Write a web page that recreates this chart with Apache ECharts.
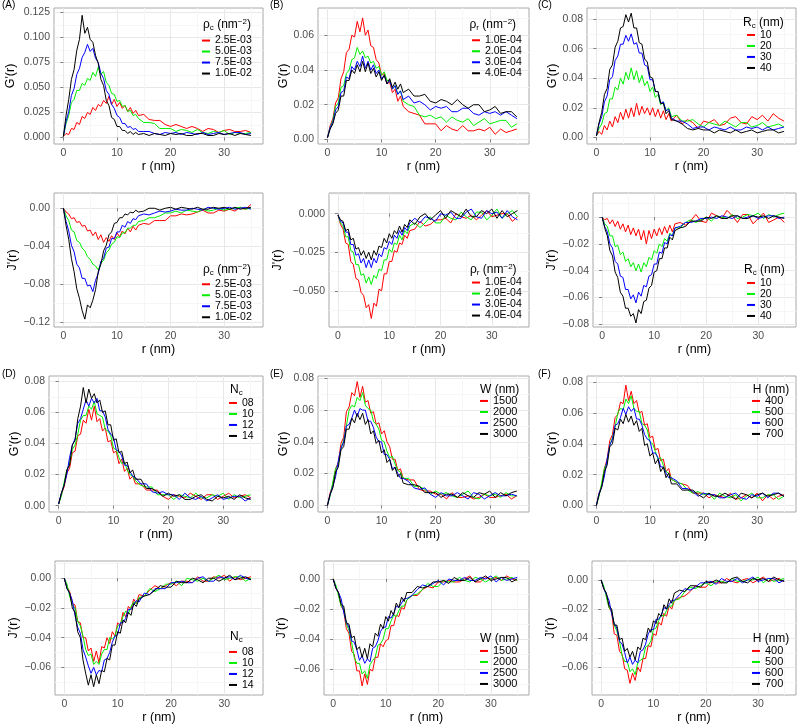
<!DOCTYPE html>
<html><head><meta charset="utf-8">
<script src="https://cdn.jsdelivr.net/npm/echarts@6/dist/echarts.min.js"></script>
<style>html,body{margin:0;padding:0;background:#fff}#c{width:800px;height:726px}</style>
</head><body><div id="c"></div>
<script>
// all series values are given in units of 10^-3
const SCALE = 0.001;
const rGrid = [0,0.5,1,1.5,2,2.5,3,3.5,4,4.5,5,5.5,6,6.5,7,7.5,8,8.5,9,9.5,10,10.5,11,11.5,12,12.5,13,13.5,14,15,16,17,18,19,20,21,22,23,24,25,26,27,28,29,30,31,32,33,34,35];
const R_ticks = [0,10,20,30];
const R_minor = [5,15,25,35];

const A_names = ['2.5E-03','5.0E-03','7.5E-03','1.0E-02'];
const B_names = ['1.0E-04','2.0E-04','3.0E-04','4.0E-04'];
const C_names = ['10','20','30','40'];
const D_names = ['08','10','12','14'];
const E_names = ['1500','2000','2500','3000'];
const F_names = ['400','500','600','700'];

const A_G_ticks = [0,0.025,0.05,0.075,0.1,0.125];
const A_J_ticks = [-0.12,-0.08,-0.04,0];
const B_G_ticks = [0,0.02,0.04,0.06];
const B_J_ticks = [-0.05,-0.025,0];
const C_G_ticks = [0,0.02,0.04,0.06,0.08];
const C_J_ticks = [-0.08,-0.06,-0.04,-0.02,0];
const G_ticks = [0,0.02,0.04,0.06,0.08];
const J_ticks = [-0.06,-0.04,-0.02,0];

// Panel A, G'(r)
const A_G_red = [1,4,3,9,8,15,13,21,19,25,23,30,27,33,31,37,34,41,33,38,31,35,29,32,26,30,24,27,22,23,18,17,17,13,11,13,11,9,11,9,6,9,8,5,7,8,6,6,7,5];
const A_G_green = [1,14,22,35,38,47,47,54,52,59,57,65,61,70,63,66,55,52,44,43,36,37,31,32,26,27,22,23,19,15,15,14,9,9,9,6,8,7,5,8,5,4,6,5,7,3,5,4,4,5];
const A_G_blue = [1,16,26,42,49,63,69,80,85,93,86,89,79,75,64,59,47,43,33,29,22,20,14,14,10,11,8,9,6,6,6,4,3,5,4,5,3,5,4,3,5,3,4,5,3,4,5,5,3,4];
const A_G_black = [1,22,38,58,68,87,98,122,104,110,98,95,82,74,58,52,37,32,20,18,11,11,7,7,4,6,3,5,3,4,2,4,3,2,4,3,4,2,2,4,4,2,2,4,3,4,2,4,3,2];
// Panel A, J'(r)
const A_J_red = [0,-4,-6,-11,-10,-15,-14,-19,-18,-24,-23,-29,-25,-33,-28,-36,-31,-35,-29,-33,-26,-30,-24,-27,-21,-25,-19,-23,-18,-16,-17,-13,-13,-13,-8,-8,-6,-7,-6,-4,-2,-5,-5,-2,-3,-1,-3,1,-1,4];
const A_J_green = [0,-8,-13,-23,-25,-34,-36,-42,-45,-51,-54,-59,-61,-65,-58,-55,-47,-44,-38,-36,-30,-31,-26,-26,-21,-21,-18,-18,-14,-13,-10,-10,-8,-5,-5,-3,-5,-2,-3,-4,-1,-3,-2,0,-2,-1,0,1,-1,0];
const A_J_blue = [0,-14,-24,-39,-46,-59,-63,-74,-74,-82,-81,-88,-76,-69,-56,-53,-42,-41,-32,-32,-25,-25,-18,-20,-14,-16,-11,-12,-8,-6,-7,-5,-3,-4,-3,-1,-2,-2,0,-1,-2,1,0,-1,0,1,-1,0,1,-1];
const A_J_black = [0,-18,-33,-53,-67,-85,-95,-108,-117,-102,-105,-97,-86,-67,-59,-45,-39,-28,-25,-16,-15,-10,-10,-6,-7,-4,-5,-2,-4,-3,0,0,-2,0,1,-1,1,0,-1,1,-1,-1,1,0,1,-1,1,-1,0,1];
// Panel B, G'(r)
const B_G_red = [1,8,12,21,24,35,39,50,52,60,59,68,62,70,60,63,54,53,46,44,37,38,32,33,27,29,22,25,19,16,15,14,9,9,9,5,8,6,5,8,5,5,6,5,7,3,6,4,5,6];
const B_G_green = [1,7,11,19,21,30,31,38,40,46,47,53,49,51,47,48,44,45,41,42,37,39,34,34,29,31,26,28,22,20,19,14,13,14,12,13,10,13,11,10,12,8,10,12,9,10,11,11,7,9];
const B_G_blue = [1,7,10,17,19,27,28,36,35,42,40,45,42,48,41,45,40,43,38,40,35,37,32,34,29,31,26,28,23,25,21,22,20,17,19,18,19,16,16,18,18,15,14,16,15,16,14,16,14,12];
const B_G_black = [1,6,9,15,17,25,25,34,34,40,38,43,39,45,39,44,38,41,36,39,34,37,32,35,30,33,29,32,27,29,25,25,26,22,21,23,22,20,23,20,18,20,20,16,17,19,15,16,16,13];
// Panel B, J'(r)
const B_J_red = [-1,-7,-10,-19,-20,-31,-33,-42,-43,-51,-53,-61,-59,-68,-58,-60,-49,-50,-39,-39,-31,-31,-24,-25,-19,-20,-14,-16,-11,-10,-5,-8,-7,-4,-4,-3,-6,0,-2,-3,-1,-4,-1,2,-2,-1,0,0,-5,-2];
const B_J_green = [-1,-6,-8,-15,-15,-24,-25,-33,-33,-40,-39,-45,-41,-46,-40,-42,-36,-37,-30,-30,-23,-25,-19,-20,-14,-17,-11,-13,-8,-6,-9,-6,-2,-6,-6,-1,-3,-4,1,-2,-4,1,1,-4,-1,3,-3,0,2,-2];
const B_J_blue = [-1,-5,-6,-12,-12,-20,-20,-27,-26,-32,-29,-35,-30,-35,-29,-32,-26,-28,-22,-23,-18,-20,-14,-16,-11,-14,-9,-11,-6,-3,-6,-2,-3,-5,0,-1,1,-3,-3,1,3,-2,-3,2,0,1,-3,2,-2,-4];
const B_J_black = [-1,-4,-5,-11,-10,-17,-16,-23,-22,-27,-24,-29,-25,-30,-24,-27,-21,-22,-16,-19,-13,-16,-11,-13,-8,-12,-7,-9,-4,-7,-2,0,-4,-1,2,-3,2,0,-2,3,-2,-2,2,0,3,-3,2,-2,0,2];
// Panel C, G'(r)
const C_G_red = [1,4,2,8,5,11,7,14,10,17,12,19,13,20,14,23,15,21,16,20,15,20,14,19,13,18,12,16,11,15,9,12,10,6,11,10,12,8,9,13,14,10,9,14,12,15,11,16,13,11];
const C_G_green = [1,6,9,16,17,26,26,34,32,40,36,44,39,47,39,45,37,42,35,38,31,34,27,29,22,24,18,20,14,15,11,11,12,9,7,10,9,8,11,9,7,10,10,7,8,10,7,8,9,7];
const C_G_blue = [1,9,14,24,28,39,41,52,55,63,63,69,65,70,63,64,57,57,49,48,39,39,31,31,23,24,18,19,13,11,11,9,6,7,7,5,7,6,5,7,5,5,7,6,7,5,7,5,6,7];
const C_G_black = [1,10,17,29,33,46,49,61,65,74,75,83,78,84,74,74,64,63,53,51,41,40,31,31,23,23,16,18,12,11,9,6,5,6,5,5,3,5,4,3,5,3,4,5,3,4,5,5,3,4];
// Panel C, J'(r)
const C_J_red = [0,-2,-1,-5,-2,-7,-3,-9,-5,-11,-6,-13,-8,-14,-9,-17,-10,-20,-10,-16,-9,-14,-8,-13,-7,-12,-6,-11,-5,-4,-6,-3,2,-3,-4,3,1,-1,5,1,-4,2,2,-5,-1,3,-4,-2,0,-4];
const C_J_green = [0,-5,-7,-14,-14,-22,-21,-28,-26,-33,-31,-37,-34,-40,-35,-41,-34,-37,-30,-32,-25,-27,-20,-22,-16,-18,-12,-14,-8,-8,-4,-2,-4,-2,0,-3,1,0,-1,2,-1,0,2,1,3,-1,2,0,2,3];
const C_J_blue = [0,-7,-11,-20,-23,-33,-35,-44,-45,-54,-54,-61,-58,-64,-56,-59,-51,-52,-44,-43,-35,-35,-26,-27,-19,-20,-13,-14,-8,-7,-4,-4,-3,-1,-1,0,-1,1,0,-1,1,-1,0,1,-1,0,1,1,-1,0];
const C_J_black = [0,-8,-14,-25,-29,-41,-45,-56,-59,-68,-68,-74,-72,-79,-69,-72,-63,-62,-53,-51,-41,-40,-31,-31,-23,-23,-15,-17,-10,-8,-7,-3,-3,-3,0,-1,1,-1,-1,1,1,-1,-1,1,0,1,-1,1,0,-1];
// Panel D, G'(r)
const D_G_red = [1,7,12,21,24,34,35,45,46,55,53,62,55,64,54,56,48,50,41,42,34,35,27,30,22,24,17,19,14,14,10,10,10,6,4,7,6,5,8,6,4,7,7,4,6,8,5,6,7,5];
const D_G_green = [1,6,15,23,27,36,39,46,55,58,58,64,62,67,59,58,57,49,48,45,37,36,31,27,28,23,20,19,16,13,12,12,7,7,7,4,7,6,5,8,5,5,7,6,8,4,7,5,6,7];
const D_G_blue = [1,8,13,20,31,39,43,53,56,62,68,64,69,66,69,61,61,57,49,46,44,36,35,32,26,26,22,19,18,14,14,9,8,9,7,7,4,8,5,4,6,3,5,7,4,5,6,6,3,5];
const D_G_black = [1,8,13,23,26,39,42,56,64,76,66,75,69,72,66,68,60,61,52,52,42,43,34,35,27,28,21,23,17,17,11,11,9,6,8,6,7,4,4,6,7,4,3,6,5,6,4,7,5,4];
// Panel D, J'(r)
const D_J_red = [0,-6,-9,-17,-18,-29,-30,-40,-40,-49,-47,-56,-49,-57,-46,-47,-40,-44,-36,-39,-30,-32,-23,-26,-19,-21,-14,-17,-11,-12,-8,-5,-7,-5,-3,-5,-2,-2,-3,1,-2,-2,1,0,2,-2,1,-1,0,1];
const D_J_green = [0,-4,-12,-18,-20,-29,-32,-39,-48,-52,-51,-58,-56,-58,-51,-48,-48,-40,-41,-39,-32,-31,-26,-22,-24,-19,-16,-17,-13,-12,-7,-9,-7,-4,-4,-2,-5,0,-1,-2,0,-2,0,2,-1,0,1,1,-2,0];
const D_J_blue = [0,-7,-10,-15,-25,-33,-37,-48,-53,-59,-64,-60,-65,-62,-63,-55,-54,-50,-43,-39,-38,-30,-30,-27,-21,-21,-18,-15,-16,-10,-11,-7,-7,-7,-3,-3,-2,-3,-3,0,1,-2,-2,1,0,1,-1,2,0,-1];
const D_J_black = [0,-7,-10,-20,-23,-36,-40,-55,-64,-72,-65,-73,-65,-71,-62,-63,-54,-55,-45,-45,-36,-37,-28,-30,-23,-25,-17,-19,-14,-12,-11,-8,-5,-6,-6,-2,-3,-3,0,-1,-3,0,0,-2,0,2,-1,0,1,-1];
// Panel E, G'(r)
const E_G_red = [0,8,13,23,27,39,43,59,62,71,69,78,68,75,65,66,58,59,51,52,45,47,40,37,29,29,22,23,17,16,16,10,9,9,7,7,4,8,5,5,6,4,5,7,5,5,6,7,4,6];
const E_G_green = [0,6,15,23,26,36,41,50,60,63,62,68,66,71,63,61,60,53,51,48,41,40,34,30,31,26,22,21,17,17,12,12,10,7,9,7,8,6,5,7,9,5,4,7,6,7,5,8,6,6];
const E_G_blue = [0,7,12,18,28,36,40,50,51,55,60,56,61,60,60,53,53,49,43,40,40,32,32,29,23,24,20,17,17,15,11,10,11,7,5,8,6,6,8,6,4,8,7,4,6,8,6,6,7,6];
const E_G_black = [0,7,11,21,24,35,37,48,48,55,52,58,54,58,51,54,45,47,39,41,33,35,27,29,22,24,18,20,14,13,13,12,8,8,8,5,7,7,5,8,6,5,8,7,9,5,8,6,8,9];
// Panel E, J'(r)
const E_J_red = [0,-6,-9,-18,-21,-33,-36,-48,-50,-61,-61,-71,-63,-70,-60,-61,-52,-52,-43,-45,-41,-40,-31,-31,-24,-25,-19,-20,-14,-11,-11,-7,-5,-6,-2,-2,-1,-2,-2,0,2,-2,-2,1,0,1,-1,2,0,-1];
const E_J_green = [0,-4,-11,-18,-20,-30,-34,-42,-52,-56,-56,-63,-61,-66,-57,-54,-52,-44,-43,-40,-33,-33,-28,-24,-25,-21,-18,-18,-14,-11,-10,-7,-3,-5,-5,-1,-2,-2,1,-1,-2,1,0,-2,0,2,-1,0,1,-1];
const E_J_blue = [0,-6,-9,-13,-22,-29,-32,-41,-42,-47,-54,-51,-56,-53,-55,-46,-45,-41,-35,-32,-32,-25,-26,-23,-18,-19,-16,-13,-13,-11,-7,-4,-5,-3,-1,-4,0,-1,-1,1,-1,-1,1,0,2,-2,1,-1,0,1];
const E_J_black = [0,-6,-9,-17,-18,-29,-30,-39,-38,-47,-45,-52,-46,-53,-43,-45,-36,-38,-30,-33,-25,-28,-21,-24,-16,-19,-12,-15,-9,-9,-5,-6,-5,-2,-2,-1,-3,1,-1,-1,1,-2,0,2,-1,0,1,1,-2,0];
// Panel F, G'(r)
const F_G_red = [0,8,13,24,30,42,46,57,59,67,66,78,68,74,66,68,60,61,52,53,44,45,36,37,29,30,22,24,17,15,14,13,8,8,8,5,7,6,5,8,4,5,7,5,8,3,7,4,6,7];
const F_G_green = [0,6,15,24,28,39,44,51,60,63,62,69,66,71,63,61,61,53,52,49,41,40,35,30,31,26,22,21,17,15,14,10,8,9,7,8,4,8,6,5,7,3,6,8,5,5,7,7,4,6];
const F_G_blue = [0,8,12,19,30,39,43,52,53,57,63,59,64,61,63,56,56,52,46,43,42,34,34,31,25,25,21,18,18,16,11,11,9,6,8,7,7,5,5,7,8,5,4,7,6,8,5,8,8,6];
const F_G_black = [0,7,12,22,26,38,40,50,49,56,53,59,54,58,52,55,48,50,39,40,32,34,27,30,22,25,18,21,14,14,10,10,10,7,5,8,6,6,8,6,4,8,7,5,7,8,6,7,8,6];
// Panel F, J'(r)
const F_J_red = [0,-6,-10,-19,-22,-37,-38,-49,-51,-61,-62,-71,-64,-69,-60,-63,-54,-54,-45,-46,-37,-38,-29,-31,-23,-25,-18,-20,-14,-12,-11,-8,-4,-5,-5,-1,-2,-2,1,-1,-2,0,1,-2,0,2,-1,0,1,-1];
const F_J_green = [0,-4,-12,-19,-21,-31,-35,-42,-52,-56,-56,-63,-61,-65,-57,-55,-54,-46,-45,-42,-34,-33,-28,-24,-25,-21,-18,-18,-14,-13,-8,-5,-6,-4,-2,-4,-1,-1,-2,1,-1,-1,0,0,2,-2,1,-1,0,1];
const F_J_blue = [0,-6,-10,-14,-23,-30,-33,-42,-44,-50,-57,-53,-58,-55,-57,-49,-48,-44,-37,-34,-34,-27,-27,-24,-19,-20,-17,-14,-14,-10,-6,-7,-5,-2,-2,-1,-3,1,-1,-1,1,-2,0,2,-1,0,1,1,-2,0];
const F_J_black = [0,-6,-9,-18,-20,-31,-31,-41,-40,-49,-47,-53,-49,-55,-46,-48,-40,-41,-33,-36,-28,-30,-23,-25,-17,-20,-13,-16,-9,-7,-8,-4,-4,-5,-1,-2,0,-2,-2,1,2,-1,-2,1,0,1,-1,2,0,-1];

const FONT = "'Liberation Sans', Arial, Helvetica, sans-serif";
const COLORS = ['#ff0000','#00ee00','#0000ff','#000000'];
const XMIN = -1.75, XMAX = 37.25;

const T_RHOC = '{m|\u03c1}{s|c}{m| (nm}{p|\u22122}{m|)}';
const T_RHOR = '{m|\u03c1}{s|r}{m| (nm}{p|\u22122}{m|)}';
const T_RC = '{m|R}{s|c}{m| (nm)}';
const T_NC = '{m|N}{s|c}';
const T_W = '{m|W (nm)}';
const T_H = '{m|H (nm)}';

// layout: box = [left, top, width, height]
const panels = [
 {s:[A_G_red,A_G_green,A_G_blue,A_G_black], n:A_names, t:A_G_ticks, d:3, y:[-0.0065,0.1293], yt:"G'(r)", box:[54,8,209,136], yg:36.5, lg:[202,40.3], lt:[203,25,T_RHOC], lfs:10.5, let:['(A)',2,6]},
 {s:[A_J_red,A_J_green,A_J_blue,A_J_black], n:A_names, t:A_J_ticks, d:2, y:[-0.1253,0.0161], yt:"J'(r)", box:[54,193,209,134], yg:33.5, lg:[202,284], lt:[203,269.3,T_RHOC], lfs:10.5},
 {s:[B_G_red,B_G_green,B_G_blue,B_G_black], n:B_names, t:B_G_ticks, d:2, y:[-0.0026,0.0757], yt:"G'(r)", box:[318,8,211,136], yg:27.5, lg:[472,40], lt:[469.5,25,T_RHOR], lfs:10.5, let:['(B)',270,6]},
 {s:[B_J_red,B_J_green,B_J_blue,B_J_black], n:B_names, t:B_J_ticks, d:3, y:[-0.0735,0.0134], yt:"J'(r)", box:[329,193,200,134], yg:45, lg:[472,282.3], lt:[470,270,T_RHOR], lfs:10.5},
 {s:[C_G_red,C_G_green,C_G_blue,C_G_black], n:C_names, t:C_G_ticks, d:2, y:[-0.0045,0.0875], yt:"G'(r)", box:[587,8,209,136], yg:28, lg:[747,34.7], lt:[743,22.3,T_RC], lfs:10.5, let:['(C)',538,6]},
 {s:[C_J_red,C_J_green,C_J_blue,C_J_black], n:C_names, t:C_J_ticks, d:2, y:[-0.082,0.018], yt:"J'(r)", box:[593,193,203,134], yg:34, lg:[747,282.7], lt:[744,269.3,T_RC], lfs:10.5},
 {s:[D_G_red,D_G_green,D_G_blue,D_G_black], n:D_names, t:G_ticks, d:2, y:[-0.0041,0.0834], yt:"G'(r)", box:[49,376,214,136], yg:27.5, lg:[229,402.7], lt:[230,390,T_NC], lfs:10.5, let:['(D)',2,375]},
 {s:[D_J_red,D_J_green,D_J_blue,D_J_black], n:D_names, t:J_ticks, d:2, y:[-0.0786,0.0116], yt:"J'(r)", box:[55,561,208,134], yg:34, lg:[229,651.7], lt:[230,636.7,T_NC], lfs:10.5},
 {s:[E_G_red,E_G_green,E_G_blue,E_G_black], n:E_names, t:G_ticks, d:2, y:[-0.0042,0.0815], yt:"G'(r)", box:[318,376,211,136], yg:28.3, lg:[480,400.7], lt:[480,389.3,T_W], lfs:11, let:['(E)',270,375]},
 {s:[E_J_red,E_J_green,E_J_blue,E_J_black], n:E_names, t:J_ticks, d:2, y:[-0.077,0.0119], yt:"J'(r)", box:[324,561,205,134], yg:36, lg:[480,650.7], lt:[480,639,T_W], lfs:11},
 {s:[F_G_red,F_G_green,F_G_blue,F_G_black], n:F_names, t:G_ticks, d:2, y:[-0.0042,0.0839], yt:"G'(r)", box:[587,376,209,136], yg:28, lg:[752,400.7], lt:[752.7,389.3,T_H], lfs:11, let:['(F)',538,375]},
 {s:[F_J_red,F_J_green,F_J_blue,F_J_black], n:F_names, t:J_ticks, d:2, y:[-0.079,0.013], yt:"J'(r)", box:[592,561,204,134], yg:32.5, lg:[752,650.7], lt:[752.7,639,T_H], lfs:11}
];

function minorOf(ticks, lo, hi) {
  const step = ticks[1] - ticks[0];
  const out = [];
  ticks.forEach(v => { [v - step / 2, v + step / 2].forEach(m => { if (m > lo && m < hi && !out.some(o => Math.abs(o - m) < 1e-9)) out.push(m); }); });
  return out;
}
const richStyle = {
  m: {fontSize: 12, lineHeight: 14, fontFamily: FONT, color: '#000'},
  s: {fontSize: 8, lineHeight: 14, fontFamily: FONT, color: '#000', verticalAlign: 'bottom'},
  p: {fontSize: 8, lineHeight: 14, fontFamily: FONT, color: '#000', verticalAlign: 'top'}
};

const grid = [], xAxis = [], yAxis = [], series = [], legend = [], title = [];
panels.forEach((p, i) => {
  grid.push({left: p.box[0], top: p.box[1], width: p.box[2], height: p.box[3], show: true, borderColor: '#a8a8a8', borderWidth: 1, backgroundColor: '#fff'});
  xAxis.push({gridIndex: i, type: 'value', min: XMIN, max: XMAX, position: 'bottom',
    axisLine: {show: false},
    axisTick: {show: true, length: 3, lineStyle: {color: '#7f7f7f'}, customValues: R_ticks},
    axisLabel: {customValues: R_ticks, fontSize: 10.5, color: '#4d4d4d', margin: 4, fontFamily: FONT},
    splitLine: {show: true, lineStyle: {color: '#e8e8e8', width: 1}},
    name: 'r (nm)', nameLocation: 'middle', nameGap: 15.5,
    nameTextStyle: {fontSize: 12.5, color: '#000', fontFamily: FONT}});
  xAxis.push({gridIndex: i, type: 'value', min: XMIN, max: XMAX,
    axisLine: {show: false}, axisTick: {show: false, customValues: R_minor}, axisLabel: {show: false},
    splitLine: {show: true, lineStyle: {color: '#f6f6f6', width: 1}}});
  const dec = p.d;
  yAxis.push({gridIndex: i, type: 'value', min: p.y[0], max: p.y[1], position: 'left',
    axisLine: {show: false},
    axisTick: {show: true, length: 3, lineStyle: {color: '#7f7f7f'}, customValues: p.t},
    axisLabel: {customValues: p.t, fontSize: 10.5, color: '#4d4d4d', margin: 4, fontFamily: FONT,
      formatter: v => (v < -1e-12 ? '\u2212' : '') + Math.abs(v).toFixed(dec)},
    splitLine: {show: true, lineStyle: {color: '#e8e8e8', width: 1}},
    name: p.yt, nameLocation: 'middle', nameGap: p.yg, nameRotate: 90,
    nameTextStyle: {fontSize: 12.5, color: '#000', fontFamily: FONT}});
  yAxis.push({gridIndex: i, type: 'value', min: p.y[0], max: p.y[1],
    axisLine: {show: false}, axisTick: {show: false, customValues: minorOf(p.t, p.y[0], p.y[1])}, axisLabel: {show: false},
    splitLine: {show: true, lineStyle: {color: '#f6f6f6', width: 1}}});
  p.s.forEach((arr, k) => {
    series.push({type: 'line', name: p.n[k], xAxisIndex: 2 * i, yAxisIndex: 2 * i,
      data: rGrid.map((r, j) => [r, arr[j] * SCALE]),
      symbol: 'none', showSymbol: false, silent: true, animation: false, z: 2 + k,
      lineStyle: {width: 1, color: COLORS[k]}, itemStyle: {color: COLORS[k]}});
  });
  legend.push({orient: 'vertical', left: p.lg[0], top: p.lg[1] - 5.25, padding: 0,
    itemWidth: 8, itemHeight: 2, itemGap: 0, selectedMode: false,
    data: p.n.map((nm, k) => ({name: nm, icon: 'rect', itemStyle: {color: COLORS[k]}})),
    textStyle: {fontSize: p.lfs, lineHeight: 10.5, color: '#000', fontFamily: FONT}});
  title.push({text: p.lt[2], left: p.lt[0], top: p.lt[1] - 7, padding: 0,
    textStyle: {rich: richStyle, fontSize: 12, fontWeight: 'normal'}});
  if (p.let) {
    title.push({text: p.let[0], left: p.let[1], top: p.let[2] - 6, padding: 0,
      textStyle: {fontSize: 10, fontWeight: 'normal', color: '#000', fontFamily: FONT}});
  }
});

const chart = echarts.init(document.getElementById('c'), null, {renderer: 'canvas'});
chart.setOption({animation: false, backgroundColor: '#fff', grid, xAxis, yAxis, series, legend, title});
</script>
</body></html>
